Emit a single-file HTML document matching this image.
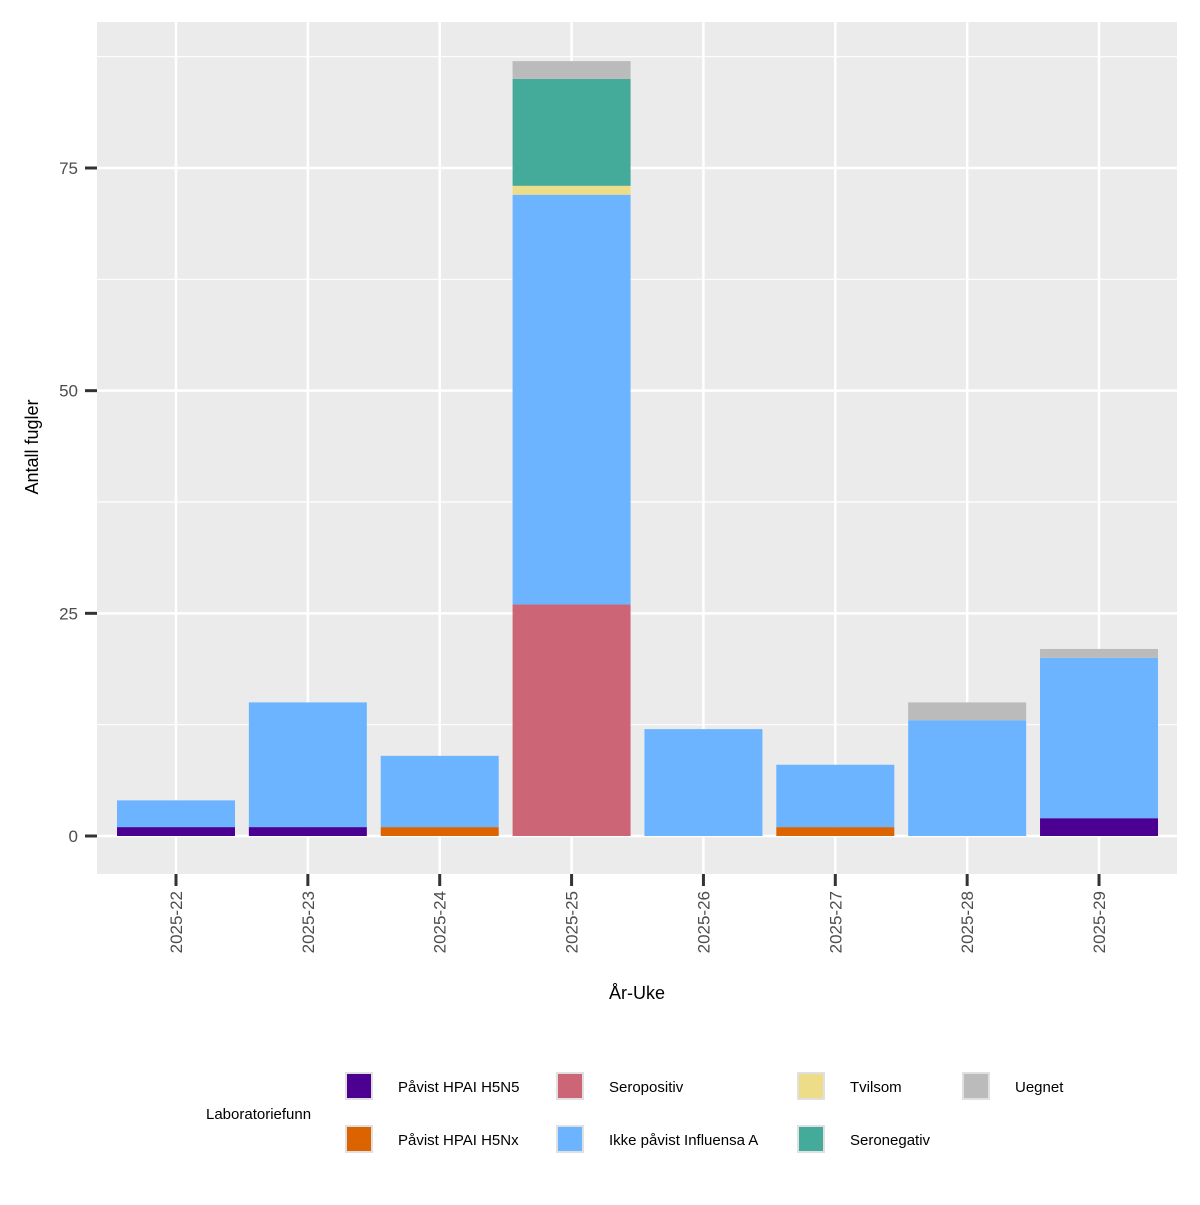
<!DOCTYPE html>
<html><head><meta charset="utf-8"><style>
body{margin:0;background:#fff;}
svg text{font-family:"Liberation Sans",Arial,sans-serif;}
</style></head><body>
<svg id="chart" width="1200" height="1200" xmlns="http://www.w3.org/2000/svg">
<rect x="0" y="0" width="1200" height="1200" fill="#fff"/>
<rect x="97" y="22" width="1080" height="852" fill="#ebebeb"/>
<g id="grid"></g>
<g id="bars"></g>
<g id="axes"></g>
<text x="637" y="999" font-size="18" text-anchor="middle" fill="#000">År-Uke</text>
<text transform="translate(38,447) rotate(-90)" font-size="18" text-anchor="middle" fill="#000">Antall fugler</text>
<text x="206" y="1119" font-size="15" fill="#000">Laboratoriefunn</text>
<g id="legend"></g>
</svg>
<script>
const categories=["2025-22","2025-23","2025-24","2025-25","2025-26","2025-27","2025-28","2025-29"];
const seriesNames=["Påvist HPAI H5N5","Påvist HPAI H5Nx","Seropositiv","Ikke påvist Influensa A","Tvilsom","Seronegativ","Uegnet"];
const h5n5=[1,1,0,0,0,0,0,2];
const h5nx=[0,0,1,0,0,1,0,0];
const seropositiv=[0,0,0,26,0,0,0,0];
const ikkePavist=[3,14,8,46,12,7,13,18];
const tvilsom=[0,0,0,1,0,0,0,0];
const seronegativ=[0,0,0,12,0,0,0,0];
const uegnet=[0,0,0,2,0,0,2,1];
const yTicks=[0,25,50,75];
const colors=["#4b0092","#dc6400","#cc6677","#6cb4ff","#eedd88","#44aa99","#bbbbbb"];
const series=[h5n5,h5nx,seropositiv,ikkePavist,tvilsom,seronegativ,uegnet];
const NS="http://www.w3.org/2000/svg";
const y=v=>836-v*(668/75);
const x=i=>176+i*131.86;
const bw=118;
function mk(t,a,p){const e=document.createElementNS(NS,t);for(const k in a)e.setAttribute(k,a[k]);p.appendChild(e);return e;}
const grid=document.getElementById('grid'),bars=document.getElementById('bars'),axes=document.getElementById('axes'),leg=document.getElementById('legend');
for(let k=0;k<yTicks.length;k++){
  const v=yTicks[k];
  const l=mk('line',{x1:97,x2:1177,y1:y(v),y2:y(v),stroke:'#fff','stroke-width':2.5},grid);
  
  
  const m=mk('line',{x1:97,x2:1177,y1:y(v+12.5),y2:y(v+12.5),stroke:'#fff','stroke-width':1.2},grid);
  
  
  const t=mk('line',{x1:85,x2:97,y1:y(v),y2:y(v),stroke:'#333','stroke-width':3},axes);
  
  
  const tx=mk('text',{x:78,y:y(v)+6,'font-size':17,'text-anchor':'end',fill:'#4d4d4d'},axes);
  tx.textContent=v;
  
  
}
categories.forEach((c,i)=>{
  const g=mk('line',{x1:x(i),x2:x(i),y1:22,y2:874,stroke:'#fff','stroke-width':2.5},grid);
  
  
  let cum=0;
  series.forEach((s,j)=>{
    const v=s[i];
    if(v>0){
      const r=mk('rect',{x:x(i)-bw/2,y:y(cum+v),width:bw,height:y(cum)-y(cum+v),fill:colors[j]},bars);
      
      
    }
    cum+=v;
  });
  const t=mk('line',{x1:x(i),x2:x(i),y1:874,y2:886,stroke:'#333','stroke-width':3},axes);
  
  
  const tx=mk('text',{transform:`translate(${x(i)+6},891) rotate(-90)`,'font-size':17,'text-anchor':'end',fill:'#4d4d4d'},axes);
  tx.textContent=c;
  
  
});
const lx=[346,346,557,557,798,798,963];
const ly=[1073,1126,1073,1126,1073,1126,1073];
seriesNames.forEach((n,j)=>{
  const r=mk('rect',{x:lx[j],y:ly[j],width:26,height:26,fill:colors[j],stroke:'#e0e0e0','stroke-width':2},leg);
  
  
  const t=mk('text',{x:lx[j]+52,y:ly[j]+19,'font-size':15,fill:'#000'},leg);
  t.textContent=n;
  
  
});
</script>
</body></html>
